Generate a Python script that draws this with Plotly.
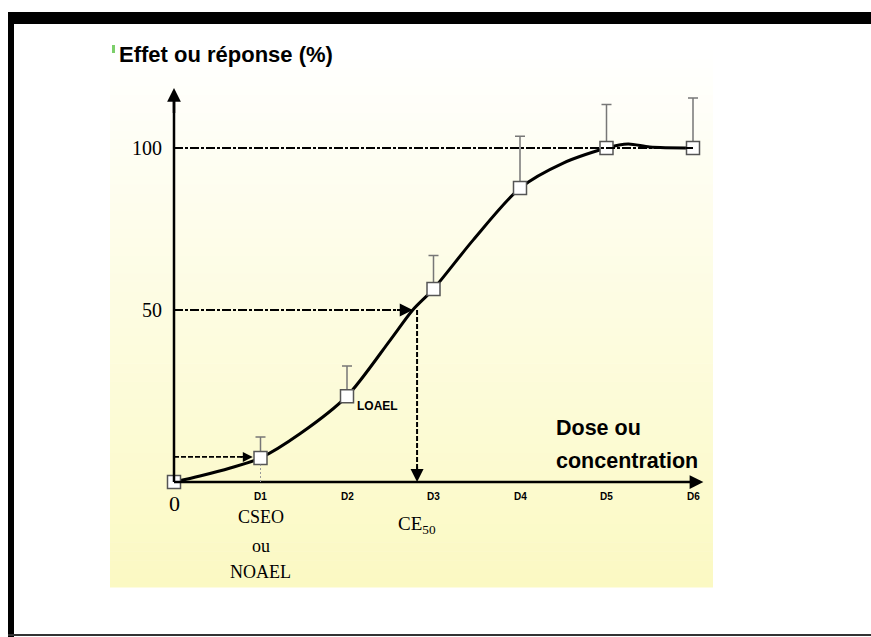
import plotly.graph_objects as go

# ---------------- data ----------------
dose_pos = [0, 1, 2, 3, 4, 5, 6]
dose_labels = ["", "D1", "D2", "D3", "D4", "D5", "D6"]
response = [0, 7.2, 25.7, 57.8, 88, 100, 100]
err_up = [0, 6.3, 9, 10, 15.5, 13, 15]

curve_dose = [0, 0.3, 0.65, 1.0, 1.46, 2.0, 2.5, 2.76, 3.0, 3.46, 4.0, 4.5, 5.0, 5.25, 5.5, 6.0]
curve_resp = [0, 1.8, 4.2, 7.2, 14.5, 25.7, 42.5, 51.5, 57.8, 72.5, 88, 95.5, 100, 101.2, 100.3, 100]

ref_levels = [51.5, 100]      # drawn reference levels
ref_labels = ["50", "100"]
ce50_dose = 2.81
noael_level = 7.5
y_axis_top = 118
x_axis_end = 6.12

# ---------------- geometry helpers ----------------
W, H = 871, 637
X0PX, XSTEP = 174, 86.5
Y0PX, YSTEP = 482, 3.34
xr = [-X0PX / XSTEP, (W - X0PX) / XSTEP]
yr = [-(H - Y0PX) / YSTEP, Y0PX / YSTEP]

def px(x):
    return x / W

def py(y):
    return 1 - y / H

fig = go.Figure()

shapes = []
# gradient background (white -> pale yellow)
top_px, bot_px, left_px, right_px = 50, 587, 110, 713
N = 60
c_top = (255, 255, 255)
c_bot = (251, 249, 194)
for i in range(N):
    t = (i + 0.5) / N
    col = tuple(round(c_top[k] + (c_bot[k] - c_top[k]) * t) for k in range(3))
    y0 = top_px + i * (bot_px - top_px) / N
    y1 = top_px + (i + 1) * (bot_px - top_px) / N + 0.6
    shapes.append(dict(type="rect", xref="paper", yref="paper",
                       x0=px(left_px), x1=px(right_px), y0=py(y1), y1=py(y0),
                       fillcolor="rgb(%d,%d,%d)" % col, line=dict(width=0), layer="below"))

# frame
shapes.append(dict(type="rect", xref="paper", yref="paper", x0=px(8), x1=1, y0=py(24), y1=py(12),
                   fillcolor="black", line=dict(width=0), layer="above"))
shapes.append(dict(type="rect", xref="paper", yref="paper", x0=px(8), x1=px(14), y0=0, y1=py(12),
                   fillcolor="black", line=dict(width=0), layer="above"))
shapes.append(dict(type="rect", xref="paper", yref="paper", x0=px(8), x1=1, y0=py(636), y1=py(634),
                   fillcolor="#333333", line=dict(width=0), layer="above"))
# little green bullet mark
shapes.append(dict(type="rect", xref="paper", yref="paper", x0=px(112), x1=px(115), y0=py(53), y1=py(45),
                   fillcolor="#7ccf6a", line=dict(width=0), layer="above"))

# axes
shapes.append(dict(type="line", xref="x", yref="y", x0=0, y0=0, x1=0, y1=y_axis_top - 3,
                   line=dict(color="black", width=2.5)))
shapes.append(dict(type="line", xref="x", yref="y", x0=0, y0=0, x1=x_axis_end - 0.05, y1=0,
                   line=dict(color="black", width=2.5)))

# reference lines
dashdot = "9px,2px,3px,2px"
shapes.append(dict(type="line", xref="x", yref="y", x0=0, y0=ref_levels[1], x1=dose_pos[-1], y1=ref_levels[1],
                   line=dict(color="black", width=2, dash=dashdot)))
shapes.append(dict(type="line", xref="x", yref="y", x0=0, y0=ref_levels[0], x1=ce50_dose - 0.12, y1=ref_levels[0],
                   line=dict(color="black", width=2, dash=dashdot)))
shapes.append(dict(type="line", xref="x", yref="y", x0=ce50_dose, y0=ref_levels[0], x1=ce50_dose, y1=3,
                   line=dict(color="black", width=2, dash="5px,2px")))
shapes.append(dict(type="line", xref="x", yref="y", x0=0, y0=noael_level, x1=0.85, y1=noael_level,
                   line=dict(color="black", width=1.8, dash="5px,2px")))
shapes.append(dict(type="line", xref="x", yref="y", x0=1, y0=0, x1=1, y1=response[1] - 2,
                   line=dict(color="#999999", width=1, dash="2px,2px")))

# curve
fig.add_trace(go.Scatter(x=curve_dose, y=curve_resp, mode="lines",
                         line=dict(color="black", width=3, shape="spline", smoothing=0.8),
                         hoverinfo="skip", showlegend=False))
# measured points with upper error bars
fig.add_trace(go.Scatter(x=dose_pos, y=response, mode="markers",
                         marker=dict(symbol="square", size=13, color="white", line=dict(color="#555555", width=1.5)),
                         error_y=dict(type="data", symmetric=False, array=err_up, arrayminus=[0] * len(err_up),
                                      color="#777777", thickness=1.5, width=5),
                         showlegend=False))

ann = []
def arrow(xh, yh, xt, yt, w=2, s=1.2):
    ann.append(dict(x=xh, y=yh, ax=xt, ay=yt, xref="x", yref="y", axref="x", ayref="y",
                    text="", showarrow=True, arrowhead=2, arrowsize=s, arrowwidth=w, arrowcolor="black"))

arrow(0, y_axis_top, 0, y_axis_top - 8, w=2.5, s=1.1)
arrow(x_axis_end, 0, x_axis_end - 0.15, 0, w=2.5, s=1.1)
arrow(ce50_dose - 0.05, ref_levels[0], ce50_dose - 0.25, ref_levels[0], w=2, s=1.3)
arrow(ce50_dose, 0, ce50_dose, 5, w=2, s=1.3)
arrow(0.91, noael_level, 0.75, noael_level, w=1.8, s=1.1)

SANS = "Liberation Sans, Arial, sans-serif"
SERIF = "Liberation Serif, Times New Roman, serif"

# title
ann.append(dict(x=px(117), y=py(54), xref="paper", yref="paper", xanchor="left", yanchor="middle",
                text="<b>Effet ou réponse (%)</b>", showarrow=False,
                font=dict(family=SANS, size=22, color="black")))
# y labels
for lv, lb in zip(ref_levels, ref_labels):
    ann.append(dict(x=0, y=lv, xref="x", yref="y", xanchor="right", yanchor="middle", xshift=-10,
                    text=lb, showarrow=False, font=dict(family=SERIF, size=20, color="black")))
ann.append(dict(x=0, y=0, xref="x", yref="y", xanchor="center", yanchor="middle", yshift=-21,
                text="0", showarrow=False, font=dict(family=SERIF, size=22, color="black")))
# dose tick labels
for d, lb in zip(dose_pos, dose_labels):
    if lb:
        ann.append(dict(x=d, y=0, xref="x", yref="y", xanchor="center", yanchor="middle", yshift=-14,
                        text="<b>%s</b>" % lb, showarrow=False, font=dict(family=SANS, size=10, color="black")))
# CSEO / ou / NOAEL
for txt, yp in [("CSEO", 517), ("ou", 546), ("NOAEL", 572)]:
    ann.append(dict(x=1, y=py(yp), xref="x", yref="paper", xanchor="center", yanchor="middle",
                    text=txt, showarrow=False, font=dict(family=SERIF, size=18, color="black")))
ann.append(dict(x=ce50_dose, y=py(525), xref="x", yref="paper", xanchor="center", yanchor="middle",
                text="CE<sub>50</sub>", showarrow=False, font=dict(family=SERIF, size=19, color="black")))
ann.append(dict(x=2, y=response[2], xref="x", yref="y", xanchor="left", yanchor="middle", xshift=8, yshift=-10,
                text="<b>LOAEL</b>", showarrow=False, font=dict(family=SANS, size=12, color="black")))
for txt, yp in [("Dose ou", 428), ("concentration", 461)]:
    ann.append(dict(x=px(554), y=py(yp), xref="paper", yref="paper", xanchor="left", yanchor="middle",
                    text="<b>%s</b>" % txt, showarrow=False,
                    font=dict(family=SANS, size=21.5, color="black")))

fig.update_layout(
    width=W, height=H, autosize=False,
    margin=dict(l=0, r=0, t=0, b=0, pad=0),
    paper_bgcolor="white", plot_bgcolor="rgba(0,0,0,0)",
    xaxis=dict(range=xr, visible=False, fixedrange=True),
    yaxis=dict(range=yr, visible=False, fixedrange=True),
    shapes=shapes, annotations=ann, showlegend=False,
)

fig.write_html("out.html", config={"displayModeBar": False},
               post_script="document.body.style.margin='0';document.body.style.padding='0';")
